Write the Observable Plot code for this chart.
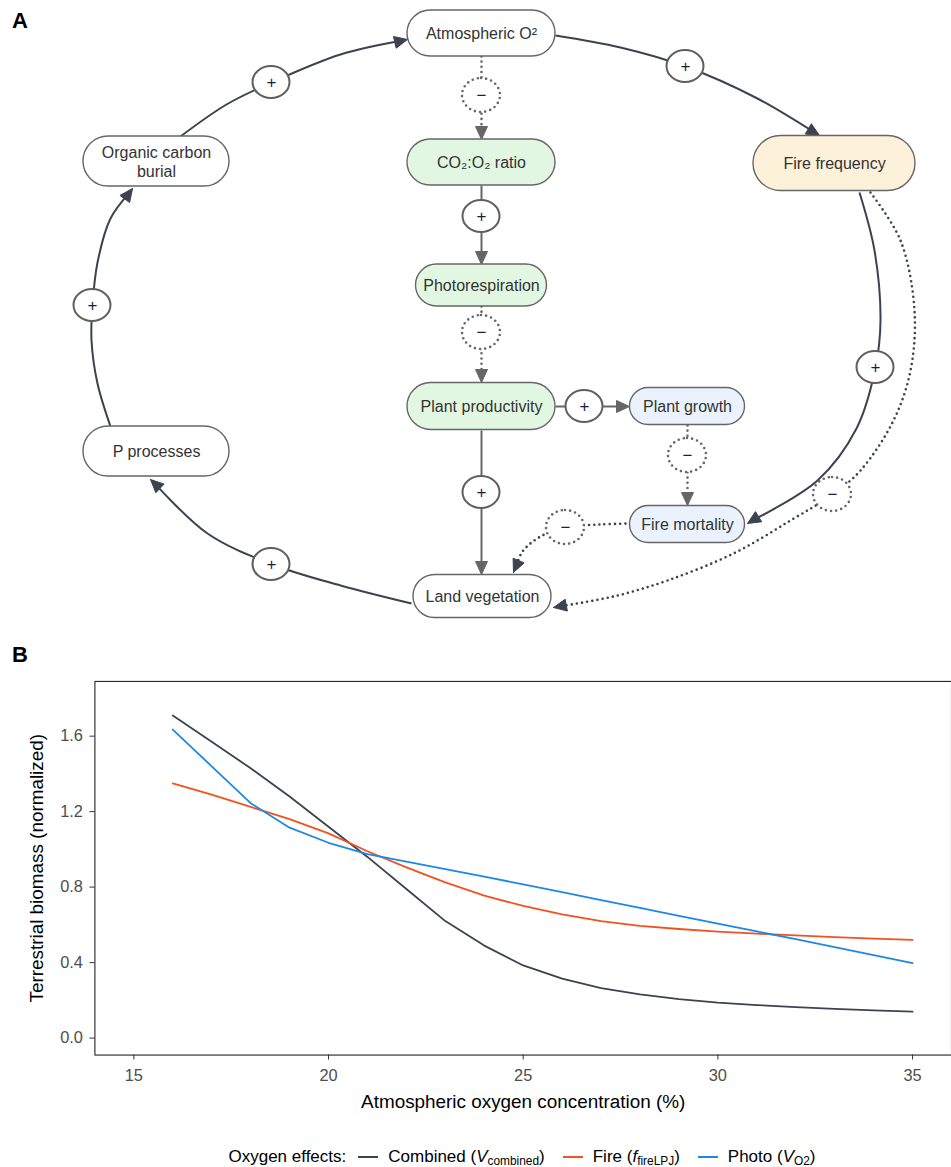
<!DOCTYPE html>
<html><head><meta charset="utf-8">
<script src="https://cdn.jsdelivr.net/npm/d3@7"></script>
<script src="https://cdn.jsdelivr.net/npm/@observablehq/plot@0.6"></script>
<style>
html,body{margin:0;padding:0;background:#fff;overflow:hidden;width:951px;height:1167px;}
#root{position:relative;width:951px;height:1167px;overflow:hidden;font-family:"Liberation Sans",Arial,Helvetica,sans-serif;}
.plabel{position:absolute;left:12px;font-weight:bold;font-size:22px;line-height:1;color:#000;}
#a{position:absolute;left:0;top:0;}
#b{position:absolute;left:0;top:670px;}
#b g[aria-label="x-axis tick label"], #b g[aria-label="y-axis tick label"]{fill:#4d4d4d;font-size:16.5px;}
#b g[aria-label="x-axis tick"], #b g[aria-label="y-axis tick"]{stroke:#333;}
#b g[aria-label="x-axis label"], #b g[aria-label="y-axis label"]{fill:#000;font-size:19px;}
#legend{position:absolute;top:1147px;left:95px;width:862px;display:flex;justify-content:center;align-items:center;font-size:17px;line-height:20px;color:#000;white-space:nowrap;}
.key{display:inline-block;width:20px;height:0;border-top:2px solid;margin:0 10px 0 10px;}
#legend sub{font-size:70%;vertical-align:-0.25em;line-height:0;}
#legend i{font-style:italic;}
</style>
</head><body>
<div id="root">
  <div class="plabel" style="top:10px">A</div>
  <div id="a"></div>
  <div class="plabel" style="top:644px">B</div>
  <div id="b"></div>
  <div id="legend"></div>
</div>
<script>
// ---------------- Panel B data ----------------
const o2 = [16,17,18,19,20,21,22,23,24,25,26,27,28,29,30,31,32,33,34,35];
const combined = [1.71,1.57,1.43,1.28,1.12,0.96,0.79,0.62,0.49,0.385,0.315,0.265,0.232,0.207,0.188,0.175,0.164,0.155,0.147,0.14];
const fire = [1.35,1.29,1.225,1.16,1.085,0.99,0.905,0.825,0.755,0.70,0.655,0.62,0.595,0.578,0.564,0.553,0.544,0.535,0.527,0.52];
const photo = [1.635,1.44,1.245,1.115,1.035,0.975,0.935,0.895,0.855,0.815,0.773,0.731,0.69,0.648,0.607,0.565,0.524,0.482,0.44,0.397];
const seriesNames = ["Combined","Fire","Photo"];
const seriesColors = ["#3b4250","#f4511e","#1e88e5"];
const legendTitle = "Oxygen effects:";
const legendLabels = ['Combined (<i>V</i><sub>combined</sub>)','Fire (<i>f</i><sub>fireLPJ</sub>)','Photo (<i>V</i><sub>O2</sub>)'];
const xTicks = [15,20,25,30,35];
const yTicks = [0,0.4,0.8,1.2,1.6];
const xTitle = "Atmospheric oxygen concentration (%)";
const yTitle = "Terrestrial biomass (normalized)";

// ---------------- Panel A data ----------------
const nodeLabels = ["Atmospheric O\u00B2","CO\u2082:O\u2082 ratio","Photorespiration","Plant productivity","Plant growth","Fire mortality","Land vegetation","P processes","Organic carbon\nburial","Fire frequency"];
const nodeGroup = ["neutral","photo","photo","photo","fire","fire","neutral","neutral","neutral","freq"];
// diagram layout (pixel space of panel A)
const nodeCX = [481,481,481,481,687,687,482,156,156,834];
const nodeCY = [33,162,285,406,406,524,596,451,161,163];
const nodeW  = [148,148,131,148,115,115,138,146,146,162];
const nodeH  = [46,46,42,47,37,37,43,50,50,55];
const groupFill = {neutral:"#ffffff", photo:"#e2f7e1", fire:"#eaf3fd", freq:"#fdf1d9"};

const signs = ["+","+","−","+","−","+","−","+","−","+","−","+","+"];
const signCX = [271,685,481,481,481,584,687,481,565,875,832,271,92];
const signCY = [82,66,95,216,332,406,455,492,527,367,494,564,305];
const signDotted = [false,false,true,false,true,false,true,false,true,false,true,false,false];

// edges: kind outer (dark) / inner (gray), dotted, waypoints
const edges = [
  {kind:"outer", dotted:false, pts:[[180,136],[226,104],[271,82],[340,54],[407,39]]},
  {kind:"outer", dotted:false, pts:[[555,35],[620,47],[685,66],[755,97],[819,135]]},
  {kind:"outer", dotted:false, pts:[[859,192],[874,250],[880,320],[875,367],[856,428],[817,480],[747,523]]},
  {kind:"outer", dotted:true,  pts:[[870,192],[900,240],[914,310],[910,370],[893,420],[860,470],[832,494],[790,520],[733,553],[667,580],[613,596],[553,607]]},
  {kind:"outer", dotted:false, pts:[[411,603],[340,585],[272,564],[207,533],[150,479]]},
  {kind:"outer", dotted:false, pts:[[110,426],[97,383],[91,340],[92,305],[97,262],[110,218],[132,188]]},
  {kind:"inner", dotted:true,  pts:[[481,56],[481,95],[481,139]]},
  {kind:"inner", dotted:false, pts:[[481,185],[481,216],[481,264]]},
  {kind:"inner", dotted:true,  pts:[[481,306],[481,332],[481,382]]},
  {kind:"inner", dotted:false, pts:[[555,406],[584,406],[629,406]]},
  {kind:"inner", dotted:true,  pts:[[687,425],[687,455],[687,505]]},
  {kind:"inner", dotted:false, pts:[[481,430],[481,492],[481,574]]},
  {kind:"outerDot", dotted:true, pts:[[630,523],[600,524],[565,527],[540,536],[522,551],[513,572]]}
];

const DARK = "#3b4250", GRAY = "#666666";
const FONT = '"Liberation Sans", Arial, Helvetica, sans-serif';

// ---------- build panel A ----------
const nodes = nodeLabels.map((label,i)=>({label, x:nodeCX[i], y:nodeCY[i], w:nodeW[i], h:nodeH[i], fill:groupFill[nodeGroup[i]]}));
const signData = signs.map((s,i)=>({s, x:signCX[i], y:signCY[i], dotted:signDotted[i]}));

const marksA = [];
const heads = [];
edges.forEach((e,i)=>{
  const color = e.kind==="inner" ? GRAY : DARK;
  const n = e.pts.length;
  const P = e.pts[n-1], Q = e.pts[n-2];
  const dx = P[0]-Q[0], dy = P[1]-Q[1], L = Math.hypot(dx,dy);
  const ux = dx/L, uy = dy/L, nx = -uy, ny = ux;
  const len = 13, hw = 6;
  const B = [P[0]-len*ux, P[1]-len*uy];
  heads.push({id:i, color, x:P[0], y:P[1]});
  heads.push({id:i, color, x:B[0]+hw*nx, y:B[1]+hw*ny});
  heads.push({id:i, color, x:B[0]-hw*nx, y:B[1]-hw*ny});
  heads.push({id:i, color, x:P[0], y:P[1]});
  const pts = e.pts.slice(0,n-1).concat([[P[0]-6*ux, P[1]-6*uy]]);
  marksA.push(Plot.line(pts, {
    x:d=>d[0], y:d=>d[1], curve:"catmull-rom", stroke:color,
    strokeWidth: e.dotted ? 2.6 : 2,
    strokeDasharray: e.dotted ? "0,5.2" : null,
    strokeLinecap: e.dotted ? "round" : "butt"
  }));
});
marksA.push(Plot.line(heads, {x:"x", y:"y", z:"id", fill:d=>d.color, stroke:d=>d.color, strokeWidth:1, curve:"linear"}));
// sign ellipses
marksA.push(Plot.rect(signData.filter(d=>!d.dotted), {x1:d=>d.x-18.5, x2:d=>d.x+18.5, y1:d=>d.y-16, y2:d=>d.y+16, rx:18.5, ry:16, fill:"white", stroke:"#5f5f5f", strokeWidth:2}));
marksA.push(Plot.rect(signData.filter(d=>d.dotted), {x1:d=>d.x-19, x2:d=>d.x+19, y1:d=>d.y-17, y2:d=>d.y+17, rx:19, ry:17, fill:"white", stroke:"#666", strokeWidth:2.6, strokeDasharray:"0,5.2", strokeLinecap:"round"}));
marksA.push(Plot.text(signData, {x:"x", y:"y", text:"s", fontSize:17, fill:"#1b1f3b"}));
// nodes
nodes.forEach(n=>{
  marksA.push(Plot.rect([n], {x1:d=>d.x-d.w/2, x2:d=>d.x+d.w/2, y1:d=>d.y-d.h/2, y2:d=>d.y+d.h/2, rx:n.h/2, ry:n.h/2, fill:n.fill, stroke:"#666", strokeWidth:1.4}));
});
marksA.push(Plot.text(nodes, {x:"x", y:"y", text:"label", fontSize:16, fill:"#333", lineHeight:1.15}));

const plotA = Plot.plot({
  width:951, height:640, margin:0,
  x:{type:"identity", axis:null}, y:{type:"identity", axis:null},
  style:{fontFamily:FONT, background:"transparent", overflow:"visible"},
  marks: marksA
});
document.getElementById("a").appendChild(plotA);

// ---------- build panel B ----------
const rows = [];
o2.forEach((x,i)=>{
  rows.push({x, y:combined[i], s:seriesNames[0]});
  rows.push({x, y:fire[i], s:seriesNames[1]});
  rows.push({x, y:photo[i], s:seriesNames[2]});
});
const plotB = Plot.plot({
  width:957, height:450,
  marginLeft:95, marginRight:0, marginTop:11, marginBottom:63,
  x:{domain:[14,36]}, y:{domain:[-0.09,1.89]},
  color:{domain:seriesNames, range:seriesColors},
  style:{fontFamily:FONT, fontSize:"16px", color:"#222", background:"transparent", overflow:"visible"},
  marks:[
    Plot.axisX({ticks:xTicks, tickSize:5, tickPadding:9, fontSize:16.5, label:xTitle, labelAnchor:"center", labelOffset:53, labelArrow:"none"}),
    Plot.axisY({ticks:yTicks, tickFormat:d3.format(".1f"), tickSize:5, tickPadding:7, fontSize:16.5, label:yTitle, labelAnchor:"center", labelOffset:66, labelArrow:"none"}),
    Plot.frame({stroke:"#222", strokeWidth:1.1}),
    Plot.line(rows, {x:"x", y:"y", z:"s", stroke:"s", strokeWidth:1.8})
  ]
});
document.getElementById("b").appendChild(plotB);

// legend
const lg = document.getElementById("legend");
let html = '<span style="margin-right:2px">'+legendTitle+'</span>';
seriesNames.forEach((s,i)=>{
  html += '<span class="key" style="border-color:'+seriesColors[i]+'"></span><span style="margin-right:8px">'+legendLabels[i]+'</span>';
});
lg.innerHTML = html;
</script>
</body></html>
